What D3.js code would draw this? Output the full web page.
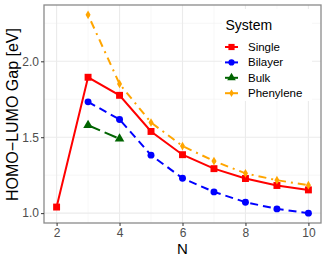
<!DOCTYPE html>
<html><head><meta charset="utf-8">
<script src="https://cdn.jsdelivr.net/npm/d3@7"></script>
<style>body{margin:0;background:#fff}svg{display:block}text{font-family:"Liberation Sans",Arial,sans-serif}</style>
</head><body><svg id="c" width="327" height="262"></svg>
<script>
const N = [2,3,4,5,6,7,8,9,10];
const singleN = [2,3,4,5,6,7,8,9,10];
const singleV = [1.04,1.895,1.776,1.538,1.385,1.293,1.228,1.182,1.153];
const bilayerN = [3,4,5,6,7,8,9,10];
const bilayerV = [1.733,1.617,1.382,1.230,1.140,1.072,1.028,1.000];
const bulkN = [3,4];
const bulkV = [1.579,1.490];
const phenN = [3,4,5,6,7,8,9,10];
const phenV = [2.306,1.851,1.597,1.442,1.343,1.262,1.217,1.184];
const xTicks = [2,4,6,8,10];
const yTicks = [1.0,1.5,2.0];
const seriesNames = ["Single","Bilayer","Bulk","Phenylene"];

const svg = d3.select("#c");
const L=44, R=321, T=5, B=223;
const x = d3.scaleLinear().domain([1.6,10.4]).range([L,R]);
const y = d3.scaleLinear().domain([0.935,2.371]).range([B,T]);

// grid
const g = svg.append("g");
const minorX = [3,5,7,9], minorY=[1.25,1.75,2.25];
minorX.forEach(v=>g.append("line").attr("x1",x(v)).attr("x2",x(v)).attr("y1",T).attr("y2",B).attr("stroke","#f4f4f4").attr("stroke-width",0.7));
minorY.forEach(v=>g.append("line").attr("y1",y(v)).attr("y2",y(v)).attr("x1",L).attr("x2",R).attr("stroke","#f4f4f4").attr("stroke-width",0.7));
xTicks.forEach(v=>g.append("line").attr("x1",x(v)).attr("x2",x(v)).attr("y1",T).attr("y2",B).attr("stroke","#ebebeb").attr("stroke-width",1.1));
yTicks.forEach(v=>g.append("line").attr("y1",y(v)).attr("y2",y(v)).attr("x1",L).attr("x2",R).attr("stroke","#ebebeb").attr("stroke-width",1.1));

const series = [
 {name:seriesNames[0], n:singleN, v:singleV, color:"#FF0000", dash:null, shape:d3.symbolSquare, size:48},
 {name:seriesNames[1], n:bilayerN, v:bilayerV, color:"#0000FF", dash:"8,5", shape:d3.symbolCircle, size:38},
 {name:seriesNames[2], n:bulkN, v:bulkV, color:"#006400", dash:"13,5", shape:d3.symbolTriangle, size:40},
 {name:seriesNames[3], n:phenN, v:phenV, color:"#FFA500", dash:"2,5,8,5", shape:d3.symbolDiamond, size:22},
];
const line = d3.line().x(d=>x(d[0])).y(d=>y(d[1]));
series.forEach(s=>{
  const pts = s.n.map((n,i)=>[n,s.v[i]]);
  svg.append("path").attr("d",line(pts)).attr("fill","none").attr("stroke",s.color).attr("stroke-width",2)
    .attr("stroke-dasharray",s.dash);
  pts.forEach(p=>svg.append("path").attr("d",d3.symbol(s.shape,s.size)()).attr("transform",`translate(${x(p[0])},${y(p[1])})`).attr("fill",s.color));
});

// border
svg.append("rect").attr("x",L).attr("y",T).attr("width",R-L).attr("height",B-T).attr("fill","none").attr("stroke","#8a8a8a").attr("stroke-width",1.3);

// axes
const xa = svg.append("g").attr("transform",`translate(0,${B})`).call(d3.axisBottom(x).tickValues(xTicks).tickSize(3).tickPadding(2).tickFormat(d3.format("d")));
const ya = svg.append("g").attr("transform",`translate(${L},0)`).call(d3.axisLeft(y).tickValues(yTicks).tickSize(3).tickPadding(2).tickFormat(d3.format(".1f")));
[xa,ya].forEach(a=>{a.select(".domain").remove();a.selectAll("line").attr("stroke","#333").attr("stroke-width",1);
  a.selectAll("text").attr("fill","#4d4d4d").style("font-size","12px").style("font-family","Liberation Sans, Arial, sans-serif");});

svg.append("text").attr("x",(L+R)/2).attr("y",254).attr("text-anchor","middle").style("font-size","15px").text("N");
svg.append("text").attr("transform",`translate(18,${(T+B)/2+0.5}) rotate(-90)`).attr("text-anchor","middle").style("font-size","16px").text("HOMO\u2212LUMO Gap [eV]");

// legend
const lg = svg.append("g");
lg.append("rect").attr("x",222).attr("y",9).attr("width",90).attr("height",92).attr("fill","#fff");
lg.append("text").attr("x",225.5).attr("y",30).style("font-size","14px").text("System");
const rowY = [47,62.4,77.8,93.2];
series.forEach((s,i)=>{
  const yy=rowY[i];
  lg.append("line").attr("x1",225).attr("x2",238).attr("y1",yy).attr("y2",yy).attr("stroke",s.color).attr("stroke-width",2);
  lg.append("path").attr("d",d3.symbol(s.shape,s.size*0.8)()).attr("transform",`translate(231.5,${yy})`).attr("fill",s.color);
  lg.append("text").attr("x",248).attr("y",yy+4).style("font-size","11.5px").text(s.name);
});
</script></body></html>
